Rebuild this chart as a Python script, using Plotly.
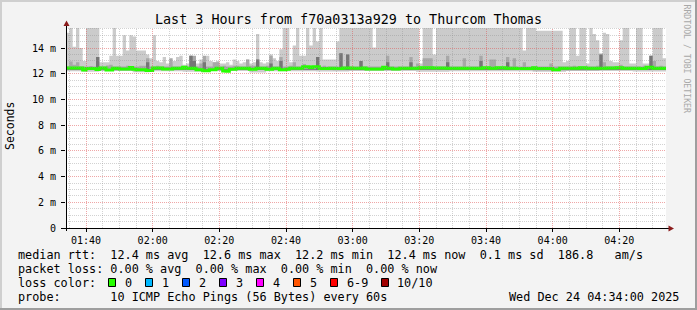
import numpy as np
import pandas as pd
import plotly.graph_objects as go

# ---------------- data ----------------
START = "2025-12-24 01:34:00"
END = "2025-12-24 04:34:00"

MEDIAN_MS = [
    12.45, 12.45, 12.45, 12.45, 12.45, 12.30, 12.40, 12.40, 12.40, 12.33,
    12.45, 12.45, 12.30, 12.30, 12.42, 12.42, 12.37, 12.37, 12.37, 12.48,
    12.35, 12.32, 12.32, 12.32, 12.25, 12.25, 12.45, 12.45, 12.45, 12.37,
    12.37, 12.37, 12.42, 12.42, 12.42, 12.50, 12.42, 12.42, 12.42, 12.32,
    12.32, 12.24, 12.24, 12.32, 12.32, 12.42, 12.42, 12.22, 12.20, 12.35,
    12.35, 12.42, 12.42, 12.42, 12.42, 12.35, 12.35, 12.42, 12.42, 12.42,
    12.35, 12.35, 12.42, 12.42, 12.32, 12.32, 12.35, 12.42, 12.42, 12.42,
    12.42, 12.55, 12.55, 12.48, 12.55, 12.55, 12.40, 12.40, 12.40, 12.42,
    12.42, 12.40, 12.40, 12.45, 12.45, 12.45, 12.42, 12.42, 12.42, 12.45,
    12.37, 12.37, 12.37, 12.37, 12.37, 12.50, 12.42, 12.42, 12.37, 12.37,
    12.42, 12.42, 12.42, 12.42, 12.42, 12.42, 12.47, 12.47, 12.47, 12.47,
    12.45, 12.45, 12.45, 12.45, 12.42, 12.42, 12.42, 12.42, 12.42, 12.42,
    12.42, 12.42, 12.42, 12.42, 12.42, 12.47, 12.47, 12.42, 12.42, 12.47,
    12.47, 12.47, 12.42, 12.42, 12.42, 12.40, 12.40, 12.40, 12.40, 12.40,
    12.47, 12.40, 12.40, 12.40, 12.40, 12.40, 12.32, 12.32, 12.42, 12.42,
    12.42, 12.42, 12.42, 12.42, 12.47, 12.47, 12.42, 12.42, 12.42, 12.42,
    12.42, 12.42, 12.45, 12.45, 12.45, 12.47, 12.47, 12.42, 12.42, 12.42,
    12.42, 12.42, 12.40, 12.40, 12.50, 12.50, 12.42, 12.42, 12.42, 12.42,
]

SMOKE_TOP_MS = [
    15.2, 16.0, 14.1, 16.0, 14.0, 13.0, 16.0, 16.0, 16.0, 16.0,
    12.9, 12.9, 12.9, 13.4, 16.0, 13.4, 13.4, 15.0, 13.8, 15.0,
    14.9, 13.8, 13.8, 13.8, 13.5, 13.2, 15.0, 13.0, 12.9, 13.3,
    12.8, 12.9, 13.0, 13.3, 13.4, 12.7, 12.8, 13.4, 13.3, 12.8,
    13.1, 13.0, 13.4, 13.0, 12.9, 13.0, 12.8, 12.8, 12.9, 12.7,
    13.1, 13.0, 12.8, 12.9, 13.1, 12.8, 12.9, 15.1, 12.9, 12.8,
    12.9, 13.5, 13.2, 13.0, 13.9, 16.0, 16.0, 12.9, 14.2, 16.0,
    13.4, 13.4, 16.0, 14.2, 16.0, 14.5, 16.0, 13.1, 13.1, 13.1,
    13.1, 14.5, 16.0, 16.0, 16.0, 16.0, 16.0, 16.0, 16.0, 16.0,
    16.0, 16.0, 14.05, 16.0, 16.0, 16.0, 16.0, 16.0, 16.0, 16.0,
    16.0, 16.0, 16.0, 16.0, 16.0, 16.0, 12.8, 16.0, 16.0, 16.0,
    13.5, 16.0, 16.0, 16.0, 16.0, 16.0, 16.0, 16.0, 16.0, 16.0,
    16.0, 16.0, 16.0, 16.0, 16.0, 16.0, 16.0, 16.0, 16.0, 16.0,
    16.0, 16.0, 16.0, 16.0, 16.0, 16.0, 16.0, 13.8, 16.0, 16.0,
    16.0, 15.35, 15.35, 15.35, 15.35, 15.35, 15.35, 15.35, 15.35, 12.9,
    13.0, 16.0, 16.0, 13.4, 16.0, 16.0, 12.8, 16.0, 15.1, 14.6,
    13.6, 15.2, 15.1, 13.0, 12.9, 12.9, 14.6, 16.0, 16.0, 12.8,
    12.8, 16.0, 16.0, 12.8, 12.8, 12.8, 16.0, 16.0, 16.0, 13.2,
]

SMOKE_MID_TOP_MS = [
    12.56, 12.95, 12.70, 12.90, 12.56, 12.56, 12.56, 12.60, 12.56, 13.30,
    12.56, 12.56, 12.65, 12.70, 12.56, 12.56, 12.56, 12.56, 12.62, 12.56,
    12.56, 12.56, 12.62, 12.62, 13.20, 12.56, 12.56, 12.62, 12.56, 12.56,
    12.56, 13.20, 12.56, 12.56, 12.56, 12.56, 12.56, 13.40, 13.40, 12.56,
    12.80, 13.40, 12.56, 12.56, 12.90, 12.90, 12.56, 12.62, 12.56, 12.56,
    12.62, 12.62, 12.56, 12.56, 13.10, 12.62, 12.62, 13.10, 12.56, 12.56,
    12.62, 13.40, 12.56, 12.56, 13.30, 12.56, 12.56, 12.62, 12.90, 12.56,
    12.56, 12.75, 12.56, 12.56, 12.56, 13.30, 12.56, 12.62, 12.56, 12.56,
    12.56, 12.56, 13.60, 12.56, 13.50, 12.56, 12.56, 12.56, 13.00, 12.56,
    12.56, 12.56, 12.56, 12.56, 12.56, 12.56, 13.40, 12.56, 12.56, 12.56,
    12.56, 12.56, 12.56, 13.30, 12.56, 12.80, 12.56, 13.20, 13.20, 13.20,
    12.56, 12.56, 12.56, 12.56, 13.40, 12.56, 12.56, 12.56, 12.56, 13.20,
    12.56, 12.56, 12.56, 12.56, 13.40, 12.56, 12.56, 13.10, 13.10, 12.56,
    12.56, 12.56, 13.30, 12.56, 13.20, 12.56, 12.56, 12.90, 12.56, 12.56,
    12.56, 12.56, 12.56, 12.56, 12.56, 12.80, 12.56, 12.56, 12.56, 12.56,
    12.56, 12.56, 12.62, 12.56, 12.56, 12.56, 12.56, 12.56, 12.56, 12.62,
    13.50, 12.90, 12.56, 12.56, 12.56, 12.56, 12.70, 12.56, 12.56, 12.56,
    12.56, 12.56, 12.56, 12.62, 12.56, 13.40, 13.00, 12.56, 12.62, 12.56,
]

# (value, number of minutes) runs, read left to right
SMOKE_BOTTOM_RUNS = [(12.20, 5), (12.15, 5), (12.22, 10), (12.12, 5), (12.20, 10),
                     (12.15, 8), (12.22, 12), (12.10, 5), (12.20, 15), (12.18, 10),
                     (12.22, 20), (12.15, 10), (12.20, 25), (12.15, 10), (12.22, 20),
                     (12.18, 10)]
SMOKE_MID_BOTTOM_RUNS = [(12.30, 10), (12.26, 10), (12.30, 20), (12.24, 10), (12.30, 30),
                         (12.28, 20), (12.30, 40), (12.26, 20), (12.30, 20)]

# darkest smoke band: minute index -> top value (ms); elsewhere hidden under the median
DARK_SPIKES = {9: 13.3, 24: 12.9, 37: 13.4, 38: 13.0, 41: 12.9, 57: 13.1, 61: 12.8,
               64: 13.0, 75: 13.3, 82: 13.6, 84: 13.5, 88: 13.0, 96: 12.9, 103: 12.9,
               114: 12.9, 124: 13.0, 132: 12.9, 160: 13.5, 175: 13.4}
DARK_BASE_MS = 12.30
DARK_TOP_MS = 12.36

Y_MAX = 15.56
Y_TICKS = [0, 2, 4, 6, 8, 10, 12, 14]
Y_LABELS = ["0", "2 m", "4 m", "6 m", "8 m", "10 m", "12 m", "14 m"]

TITLE = "Last 3 Hours from f70a0313a929 to Thurcom Thomas"
Y_TITLE = "Seconds"
ROW_RTT = "median rtt:  12.4 ms avg  12.6 ms max  12.2 ms min  12.4 ms now  0.1 ms sd  186.8   am/s"
ROW_LOSS = "packet loss: 0.00 % avg  0.00 % max  0.00 % min  0.00 % now"
ROW_COLOR = "loss color:"
LOSS_LABELS = ["0", "1", "2", "3", "4", "5", "6-9", "10/10"]
LOSS_COLORS = ["#26ff00", "#00b8ff", "#0059ff", "#7e00ff", "#ff00ff", "#ff5500", "#ff0000", "#a10000"]
ROW_PROBE = "probe:       10 ICMP Echo Pings (56 Bytes) every 60s"
DATE_TEXT = "Wed Dec 24 04:34:00 2025"
WATERMARK = "RRDTOOL / TOBI OETIKER"


def expand(runs):
    out = []
    for v, n in runs:
        out += [v] * n
    return out


N = len(MEDIAN_MS)
smoke_bottom = expand(SMOKE_BOTTOM_RUNS)
mid_bottom = expand(SMOKE_MID_BOTTOM_RUNS)
dark_top = [DARK_SPIKES.get(i, DARK_TOP_MS) for i in range(N)]
dark_bottom = [DARK_BASE_MS for _ in range(N)]

edges = pd.date_range(START, periods=N + 1, freq="min")


def stepped(vals):
    return list(vals) + [vals[-1]]


# ---------------- geometry / style ----------------
W, H = 697, 310
L, R, T, B = 66, 31, 28, 82
PW, PH = W - L - R, H - T - B
FONT = "DejaVu Sans Mono"
NB = "\u00a0"


def xp(px):
    return (px - L) / PW


def yp(py):
    return (H - B - py) / PH


fig = go.Figure()

layers = [
    (smoke_bottom, SMOKE_TOP_MS, "#cbcbcb"),
    (mid_bottom, SMOKE_MID_TOP_MS, "#a8a8a8"),
    (dark_bottom, dark_top, "#767676"),
]
for lo, hi, col in layers:
    fig.add_trace(go.Scatter(x=edges, y=stepped(lo), mode="lines", line=dict(width=0, shape="hv"),
                             hoverinfo="skip", showlegend=False))
    fig.add_trace(go.Scatter(x=edges, y=stepped(hi), mode="lines", line=dict(width=0, shape="hv"),
                             fill="tonexty", fillcolor=col, hoverinfo="skip", showlegend=False))

fig.add_trace(go.Scatter(x=edges, y=stepped(MEDIAN_MS), mode="lines",
                         line=dict(color="#26ff00", width=3, shape="hv"),
                         hoverinfo="skip", showlegend=False))

shapes = []
t0, t1 = pd.Timestamp(START), pd.Timestamp(END)
GRID_MINOR = "rgba(143,143,143,0.40)"
GRID_MAJOR = "rgba(224,80,80,0.5)"
# vertical grid (minor every 5 min, major every 20 min), drawn over the data like rrdtool
for t in pd.date_range(t0 + pd.Timedelta(minutes=1), t1, freq="5min"):
    if t.minute % 5:
        continue
    px = L + (t - t0) / (t1 - t0) * PW
    pxr = np.floor(px) + 0.5
    major = t.minute % 20 == 0
    shapes.append(dict(type="line", xref="paper", yref="paper", x0=xp(pxr), x1=xp(pxr), y0=0, y1=1,
                       line=dict(color=GRID_MAJOR if major else GRID_MINOR,
                                 width=1, dash="1px,1px"), layer="above"))
for k in range(1, int(Y_MAX / 0.5) + 1):
    v = k * 0.5
    py = (H - B) - v / Y_MAX * PH
    pyr = np.floor(py) + 0.5
    major = (k % 4 == 0)
    shapes.append(dict(type="line", xref="paper", yref="paper", x0=0, x1=1, y0=yp(pyr), y1=yp(pyr),
                       line=dict(color=GRID_MAJOR if major else GRID_MINOR,
                                 width=1, dash="1px,1px"), layer="above"))

# axis extensions + arrows
AX = "#000000"
ARROW = "#8b1c1c"
shapes.append(dict(type="line", xref="paper", yref="paper", x0=xp(66.5), x1=xp(66.5), y0=yp(231), y1=yp(24),
                   line=dict(color=AX, width=1), layer="above"))
shapes.append(dict(type="line", xref="paper", yref="paper", x0=xp(62), x1=xp(670), y0=yp(228.5), y1=yp(228.5),
                   line=dict(color=AX, width=1), layer="above"))
shapes.append(dict(type="path", xref="paper", yref="paper",
                   path=f"M {xp(63.5)} {yp(26)} L {xp(69.5)} {yp(26)} L {xp(66.5)} {yp(20.5)} Z",
                   fillcolor=ARROW, line=dict(width=0), layer="above"))
shapes.append(dict(type="path", xref="paper", yref="paper",
                   path=f"M {xp(668.5)} {yp(225.5)} L {xp(668.5)} {yp(231.5)} L {xp(674)} {yp(228.5)} Z",
                   fillcolor=ARROW, line=dict(width=0), layer="above"))

# frame (rrdtool shade)
shapes += [
    dict(type="rect", xref="paper", yref="paper", x0=xp(0), x1=xp(W), y0=yp(0), y1=yp(2),
         fillcolor="#cfcfcf", line=dict(width=0), layer="above"),
    dict(type="rect", xref="paper", yref="paper", x0=xp(0), x1=xp(2), y0=yp(0), y1=yp(H),
         fillcolor="#cfcfcf", line=dict(width=0), layer="above"),
    dict(type="rect", xref="paper", yref="paper", x0=xp(0), x1=xp(W), y0=yp(H - 2), y1=yp(H),
         fillcolor="#9e9e9e", line=dict(width=0), layer="above"),
    dict(type="rect", xref="paper", yref="paper", x0=xp(W - 2), x1=xp(W), y0=yp(0), y1=yp(H),
         fillcolor="#9e9e9e", line=dict(width=0), layer="above"),
]

annotations = []


def text(s, x, y, size=11.8, xanchor="left", color="#000000", angle=0):
    annotations.append(dict(text=s.replace(" ", NB), x=xp(x), y=yp(y), xref="paper", yref="paper",
                            xanchor=xanchor, yanchor="middle", showarrow=False, textangle=angle,
                            font=dict(family=FONT, size=size, color=color)))


text(TITLE, 348.5, 19, size=13.4, xanchor="center")
text(Y_TITLE, 10, 126, size=11.5, xanchor="center", angle=-90)
text(WATERMARK, 686.5, 59, size=8.2, xanchor="center", color="#a8a8a8", angle=90)
text(ROW_RTT, 16, 254.5)
text(ROW_LOSS, 16, 268.5)
text(ROW_COLOR, 16, 282.5)
text(ROW_PROBE, 16, 296.5)
text(DATE_TEXT, 681, 296.5, xanchor="right")

sq_x = [108.5, 145.5, 182.5, 219.5, 256.5, 293.5, 330.5, 381.5]
lab_x = [123, 160, 197, 234, 271, 308, 345, 395]
for sx, lx, lab, col in zip(sq_x, lab_x, LOSS_LABELS, LOSS_COLORS):
    shapes.append(dict(type="rect", xref="paper", yref="paper", x0=xp(sx), x1=xp(sx + 7),
                       y0=yp(278.5), y1=yp(286.5), fillcolor=col, line=dict(color="#000000", width=1),
                       layer="above"))
    text(lab, lx, 282.5)

fig.update_layout(
    width=W, height=H,
    margin=dict(l=L, r=R, t=T, b=B, pad=0),
    paper_bgcolor="#f3f3f3", plot_bgcolor="#ffffff",
    showlegend=False,
    shapes=shapes, annotations=annotations,
    xaxis=dict(type="date", range=[START, END], tickformat="%H:%M",
               tick0="2025-12-24 01:40:00", dtick=20 * 60 * 1000,
               showgrid=False, zeroline=False, showline=False,
               ticks="outside", ticklen=3, tickcolor="#000000",
               tickfont=dict(family=FONT, size=10, color="#000000")),
    yaxis=dict(range=[0, Y_MAX], tickmode="array", tickvals=Y_TICKS, ticktext=Y_LABELS,
               showgrid=False, zeroline=False, showline=False,
               ticks="outside", ticklen=4, tickcolor="#000000", ticklabelstandoff=3,
               tickfont=dict(family=FONT, size=10, color="#000000")),
)

fig.write_html("out.html", config={"displayModeBar": False})
